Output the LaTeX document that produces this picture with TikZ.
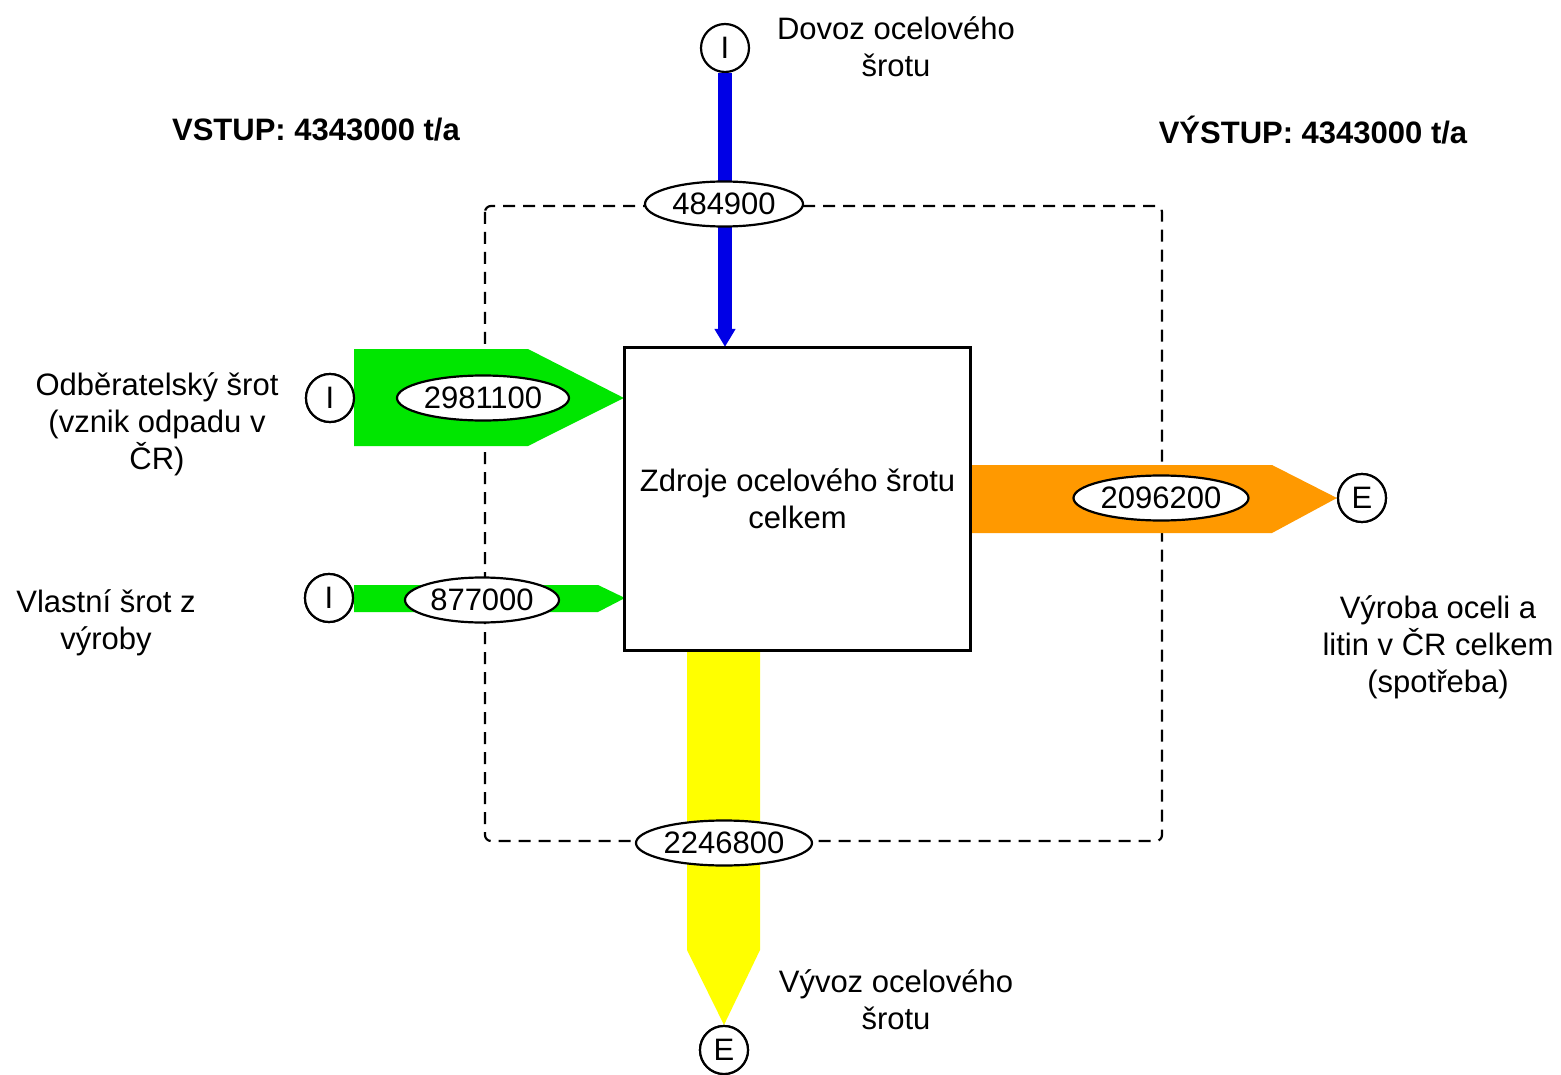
\documentclass[tikz,border=0pt]{standalone}
\usepackage{fontspec}
\setmainfont{Liberation Sans}
\usetikzlibrary{shapes.geometric,arrows.meta}
\definecolor{fgreen}{RGB}{0,230,0}
\definecolor{fblue}{RGB}{0,0,230}
\definecolor{forange}{RGB}{255,153,0}
\definecolor{fyellow}{RGB}{255,255,0}
\begin{document}
\begin{tikzpicture}[x=1pt,y=-1pt,
  every node/.style={font=\fontsize{31}{37}\selectfont},
  term/.style={circle, draw, line width=2.2pt, minimum size=48pt, inner sep=0pt, fill=white},
  flowlbl/.style={ellipse, draw, line width=2.2pt, fill=white, inner sep=0pt, minimum height=45pt},
  lbl/.style={align=center, inner sep=0pt},
  procbox/.style={draw, line width=2.2pt, fill=white, minimum width=345pt, minimum height=302pt, inner sep=0pt, align=center},
  boundary/.style={line width=2.2pt, dash pattern=on 12pt off 8pt, rounded corners=6pt}]
\fill[white] (0,0) rectangle (1561,1075);
\useasboundingbox (0,0) rectangle (1561,1075);
% system boundary
\draw[boundary] (485,206) rectangle (1162,841);
% nodes
\node[procbox] (box) at (797.5,499) {Zdroje ocelového šrotu\\celkem};
\node[term] (I1) at (725,48) {I};
\node[term] (I2) at (330,398) {I};
\node[term] (I3) at (329,598) {I};
\node[term] (E1) at (1362,498) {E};
\node[term] (E2) at (724,1050) {E};
% flows
\fill[fgreen] (354,349) -- (528,349) -- (box.west |- I2) -- (528,446) -- (354,446) -- cycle;
\fill[fgreen] (354,585) -- (598,585) -- (625,598) -- (598,612) -- (354,612) -- cycle;
\fill[forange] (970,465) -- (1272,465) -- (E1.west) -- (1272,533) -- (970,533) -- cycle;
\fill[fyellow] (687,650) -- (760,650) -- (760,950) -- (E2.north) -- (687,950) -- (687,650) -- cycle;
\draw[fblue, line width=14pt, -{Triangle[width=20pt,length=18pt]}] (I1.south) -- (box.north -| I1.south);
% redraw box outline over flows
\draw[line width=2.2pt] (box.north west) rectangle (box.south east);
\node[term] at (I2) {I};
\node[term] at (I3) {I};
\node[term] at (E1) {E};
\node[term] at (E2) {E};
% flow labels
\node[flowlbl, minimum width=158pt] (f1) at (724,204) {484900};
\node[flowlbl, minimum width=172pt] (f2) at (483,398) {2981100};
\node[flowlbl, minimum width=154pt] (f3) at (482,600) {877000};
\node[flowlbl, minimum width=175pt] (f4) at (1161,498) {2096200};
\node[flowlbl, minimum width=176pt] (f5) at (724,843) {2246800};
% texts
\node[lbl] (t1) at (896,47) {Dovoz ocelového\\šrotu};
\node[lbl, font=\fontsize{31}{37}\selectfont\bfseries] (t2) at (316,130) {VSTUP: 4343000 t/a};
\node[lbl, font=\fontsize{31}{37}\selectfont\bfseries] (t3) at (1313,130) {VÝSTUP: 4343000 t/a};
\node[lbl] (t4) at (157,424) {Odběratelský šrot\\(vznik odpadu v\\ČR)};
\node[lbl] (t5) at (106,623) {Vlastní šrot z\\výroby};
\node[lbl] (t6) at (1438,647) {Výroba oceli a\\litin v ČR celkem\\(spotřeba)};
\node[lbl] (t7) at (896,1000) {Vývoz ocelového\\šrotu};
\end{tikzpicture}
\end{document}
